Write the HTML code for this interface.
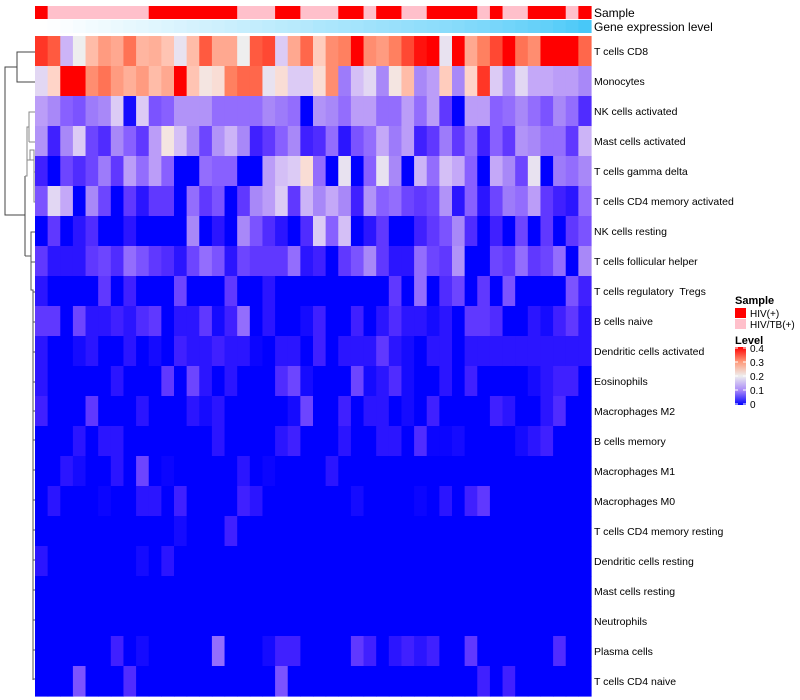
<!DOCTYPE html>
<html><head><meta charset="utf-8"><style>
body{margin:0;background:#fff;}
svg{display:block;font-family:"Liberation Sans",Arial,sans-serif;}
#rowlabels text{white-space:pre;}
</style></head><body>
<svg id="chart" width="800" height="700" viewBox="0 0 800 700">
<g id="dendro" stroke="#444" stroke-width="1" fill="none">
<path d="M35 52H17V82H35M17 67H5V215H25M25 176V256"/>
<path d="M25 176H27V127H29V112H35M29 142H35M29 127V142M27 160H30V150H34V172H35M27 160H34V202H35" stroke="#888"/>
<path d="M25 256H31V232H35M31 262H35M31 245V290H33V680M33 292H35M33 322H35M33 352H35M33 382H35M33 411H35M33 440H35M33 470H35M33 500H35M33 530H35M33 560H35M33 590H35M33 620H35M33 650H35M33 679H35" stroke="#555"/>
</g>
<g id="annot"></g>
<g id="cells"></g>
<g id="rowlabels" font-size="10.5" fill="#000"></g>
<text x="594" y="17" font-size="12">Sample</text>
<text x="594" y="31" font-size="12">Gene expression level</text>
<g>
<text x="735" y="304" font-size="11" font-weight="bold">Sample</text>
<rect x="735" y="308" width="11" height="10" fill="#ff0000"/>
<text x="750" y="317" font-size="10">HIV(+)</text>
<rect x="735" y="319" width="11" height="10" fill="#ffc0cb"/>
<text x="750" y="328" font-size="10">HIV/TB(+)</text>
<text x="735" y="344" font-size="11" font-weight="bold">Level</text>
<defs><linearGradient id="lg" x1="0" y1="0" x2="0" y2="1">
<stop offset="0" stop-color="#ff0000"/><stop offset="0.25" stop-color="#ff9878"/><stop offset="0.5" stop-color="#eeeeee"/><stop offset="0.75" stop-color="#a888f8"/><stop offset="1" stop-color="#0000ff"/></linearGradient></defs>
<rect x="735" y="347" width="11" height="58" fill="url(#lg)"/>
<g stroke="#fff" stroke-width="1"><path d="M735 348h3M743 348h3M735 362h3M743 362h3M735 376h3M743 376h3M735 390h3M743 390h3M735 404h3M743 404h3"/></g>
<g font-size="10">
<text x="750" y="352">0.4</text>
<text x="750" y="366">0.3</text>
<text x="750" y="380">0.2</text>
<text x="750" y="394">0.1</text>
<text x="750" y="408">0</text>
</g></g>
</svg>
<script>
const rowNames=["T cells CD8","Monocytes","NK cells activated","Mast cells activated","T cells gamma delta","T cells CD4 memory activated","NK cells resting","T cells follicular helper","T cells regulatory  Tregs","B cells naive","Dendritic cells activated","Eosinophils","Macrophages M2","B cells memory","Macrophages M1","Macrophages M0","T cells CD4 memory resting","Dendritic cells resting","Mast cells resting","Neutrophils","Plasma cells","T cells CD4 naive"];
const sampleGroups=["H","T","T","T","T","T","T","T","T","H","H","H","H","H","H","H","T","T","T","H","H","T","T","T","H","H","T","H","H","T","T","H","H","H","H","T","H","T","T","H","H","H","T","H"];
const expressionLevel=[0.00,0.01,0.03,0.05,0.07,0.09,0.11,0.13,0.15,0.17,0.19,0.21,0.23,0.25,0.27,0.29,0.31,0.33,0.35,0.37,0.39,0.41,0.44,0.46,0.48,0.50,0.52,0.54,0.56,0.58,0.60,0.62,0.64,0.66,0.69,0.71,0.74,0.77,0.80,0.83,0.86,0.90,0.94,1.00];
const r0=[.37,.35,.15,.2,.26,.30,.29,.33,.27,.28,.25,.19,.26,.35,.29,.29,.2,.35,.36,.17,.29,.34,.24,.31,.32,.4,.31,.30,.32,.36,.39,.4,.19,.4,.29,.32,.36,.4,.33,.31,.4,.4,.4,.34];
const r1=[.18,.23,.4,.4,.31,.33,.30,.28,.30,.26,.29,.4,.25,.21,.22,.32,.34,.34,.19,.22,.17,.17,.22,.31,.10,.16,.18,.11,.21,.26,.11,.13,.24,.11,.23,.37,.17,.12,.18,.14,.14,.13,.13,.11];
const r2=[.13,.11,.08,.07,.10,.11,.17,.01,.17,.07,.08,.12,.12,.12,.09,.09,.09,.09,.11,.10,.09,0,.12,.11,.09,.13,.13,.09,.09,.13,.09,.13,.05,0,.13,.13,.08,.09,.11,.09,.07,.11,.09,.04];
const r3=[.12,.03,.11,.17,.06,.04,.11,.08,.05,.13,.21,.16,.11,.06,.12,.15,.11,.03,.05,.08,.11,.03,.04,.09,.02,.07,.09,.14,.10,.13,.03,.05,.10,.05,.09,.03,.08,.05,.12,.11,.09,.09,.05,.15];
const r4=[.03,0,.06,.04,.06,.10,.05,.13,.09,.13,.08,0,0,.09,.08,.08,0,0,.13,.16,.17,.22,.09,0,.19,0,.08,.19,.11,0,.15,.09,.16,.14,.08,0,.14,.11,.06,.19,0,.10,.09,.11];
const r5=[.07,.18,.14,0,.11,.06,0,.05,.02,.05,.05,0,.09,.05,.07,0,.05,.11,.13,.17,.05,.15,.11,.14,.11,.03,.12,.08,.09,.06,.05,.06,.12,.02,.08,.02,.06,.10,.09,.13,.05,.03,.02,.09];
const r6=[0,.05,0,.02,.04,0,0,.02,0,0,0,0,.11,0,.02,0,.11,.07,.04,.02,0,.04,.17,.08,.16,0,.02,.05,0,0,.03,.05,.07,.11,.04,0,.03,0,.06,0,.05,0,.05,.07];
const r7=[.05,.02,.02,.02,.05,.06,.04,.09,.07,.05,.04,.02,.06,.09,.07,.02,.06,.05,.05,.05,.09,.02,.03,0,.05,.07,.11,.05,.02,.02,.09,.06,.05,.12,0,0,.06,.05,.09,.05,.06,.09,0,.11];
const r8=[.02,0,0,0,0,.05,0,.03,0,0,0,.06,0,0,0,.05,0,0,.02,0,0,0,0,0,0,0,0,0,.05,0,.09,0,.04,.06,0,.05,0,.07,0,0,0,0,.07,.03];
const r9=[.05,.05,0,.06,.02,.02,.03,.02,.04,.05,0,.02,.02,.05,.01,.03,.09,0,.02,0,0,.01,.03,0,0,.03,0,.02,.04,.02,.02,.01,.02,0,.05,.05,.04,0,0,.02,.01,.03,.05,.02];
const r10=[.02,0,0,.01,.02,0,0,.02,0,.01,0,.03,.02,.02,.03,.02,.02,.005,0,.02,.02,0,.03,0,.02,.02,.02,.05,.02,.01,0,.02,.02,0,.02,.02,.02,.02,.02,.02,.02,.02,.02,.02];
const r11=[.02,0,0,0,0,0,.02,0,0,0,.05,0,.06,.02,0,.02,0,0,0,.04,.06,.01,0,0,0,.06,.01,.02,.04,.01,0,0,.02,0,.03,0,0,0,0,.01,.02,.03,.03,0];
const r12=[.03,0,0,0,.05,0,0,0,.02,0,0,0,.02,.01,.02,0,0,0,0,0,.01,.06,0,0,.03,0,.02,.02,0,.01,0,.03,0,0,0,0,.03,.02,0,0,.02,.04,0,0];
const r13=[0,0,0,.02,0,.02,.02,0,0,0,0,0,0,0,.02,0,0,0,0,.02,.03,0,0,0,.02,0,0,.02,.02,0,.04,.005,.005,.01,0,0,0,0,.01,.02,.03,0,0,0];
const r14=[0,0,.02,.01,0,0,.02,0,.06,0,.005,0,0,0,0,0,.02,0,.005,0,0,0,0,.02,0,0,0,0,0,0,0,0,0,0,0,0,0,0,0,0,0,0,0,0];
const r15=[0,.02,0,0,0,.005,0,0,.02,.02,0,.03,0,0,0,0,.03,.02,0,0,0,0,0,0,0,.01,0,0,0,0,.005,0,.02,0,.03,.05,0,0,0,0,0,0,0,0];
const r16=[0,0,0,0,0,0,0,0,0,0,0,.01,0,0,0,.03,0,0,0,0,0,0,0,0,0,0,0,0,0,0,0,0,0,0,0,0,0,0,0,0,0,0,0,0];
const r17=[.02,0,0,0,0,0,0,0,.01,0,.02,0,0,0,0,0,0,0,0,0,0,0,0,0,0,0,0,0,0,0,0,0,0,0,0,0,0,0,0,0,0,0,0,0];
const r18=[0,0,0,0,0,0,0,0,0,0,0,0,0,0,0,0,0,0,0,0,0,0,0,0,0,0,0,0,0,0,0,0,0,0,0,0,0,0,0,0,0,0,0,0];
const r19=[0,0,0,0,0,0,0,0,0,0,0,0,0,0,0,0,0,0,0,0,0,0,0,0,0,0,0,0,0,0,0,0,0,0,0,0,0,0,0,0,0,0,0,0];
const r20=[0,0,0,0,0,0,.03,0,.01,0,0,0,0,0,.09,0,0,0,.01,.03,.03,0,0,0,0,.05,.03,0,.02,.03,.02,.03,0,0,.05,0,0,0,0,0,0,.04,0,0];
const r21=[0,0,0,.07,0,0,0,.04,0,0,0,0,0,0,0,0,0,0,0,.07,0,0,0,0,0,0,0,0,0,0,0,0,0,0,0,.03,0,.03,0,0,0,0,0,0];
const levels=[r0,r1,r2,r3,r4,r5,r6,r7,r8,r9,r10,r11,r12,r13,r14,r15,r16,r17,r18,r19,r20,r21];

const NS="http://www.w3.org/2000/svg";
const X0=35,X1=591,Y0=36,RH=30;
const nCols=sampleGroups.length;
const cw=(X1-X0)/nCols;
function xPos(i){return X0+i*cw;}
function yPos(r){return Y0+r*RH;}
const stops=[[0,[0,0,255]],[.03,[64,32,255]],[.05,[96,56,255]],[.08,[136,96,255]],[.11,[168,136,248]],[.14,[196,168,248]],[.17,[220,203,245]],[.2,[238,238,238]],[.23,[255,212,200]],[.26,[255,188,168]],[.29,[255,168,144]],[.32,[255,128,96]],[.35,[255,90,64]],[.4,[255,0,0]]];
function levelColor(v){
  v=Math.max(0,Math.min(.4,v));
  for(let k=1;k<stops.length;k++){
    if(v<=stops[k][0]){
      const a=stops[k-1],b=stops[k],t=(v-a[0])/(b[0]-a[0]);
      const c=a[1].map((x,j)=>Math.round(x+(b[1][j]-x)*t));
      return `rgb(${c[0]},${c[1]},${c[2]})`;
    }
  }
  return "rgb(255,0,0)";
}
function exprColor(v){
  const a=[255,255,255],b=[72,200,248];
  const c=a.map((x,j)=>Math.round(x+(b[j]-x)*v));
  return `rgb(${c[0]},${c[1]},${c[2]})`;
}
const cells=document.getElementById('cells');
levels.forEach((row,r)=>{
  row.forEach((v,i)=>{
    const el=document.createElementNS(NS,'rect');
    el.setAttribute('x',xPos(i));el.setAttribute('y',yPos(r));
    el.setAttribute('width',cw+0.6);el.setAttribute('height',RH+0.6);
    el.setAttribute('fill',levelColor(v));
    
    
    cells.appendChild(el);
  });
});
const annot=document.getElementById('annot');
sampleGroups.forEach((g,i)=>{
  const el=document.createElementNS(NS,'rect');
  el.setAttribute('x',xPos(i));el.setAttribute('y',6);
  el.setAttribute('width',cw+0.6);el.setAttribute('height',13);
  el.setAttribute('fill',g==="H"?"#ff0000":"#ffc0cb");
  
  
  annot.appendChild(el);
});
expressionLevel.forEach((v,i)=>{
  const el=document.createElementNS(NS,'rect');
  el.setAttribute('x',xPos(i));el.setAttribute('y',20);
  el.setAttribute('width',cw+0.6);el.setAttribute('height',13);
  el.setAttribute('fill',exprColor(v));
  
  
  annot.appendChild(el);
});
const rl=document.getElementById('rowlabels');
rowNames.forEach((n,r)=>{
  const t=document.createElementNS(NS,'text');
  t.setAttribute('x',594);t.setAttribute('y',yPos(r)+RH/2+4);
  t.textContent=n;
  
  
  rl.appendChild(t);
});
</script>
</body></html>
